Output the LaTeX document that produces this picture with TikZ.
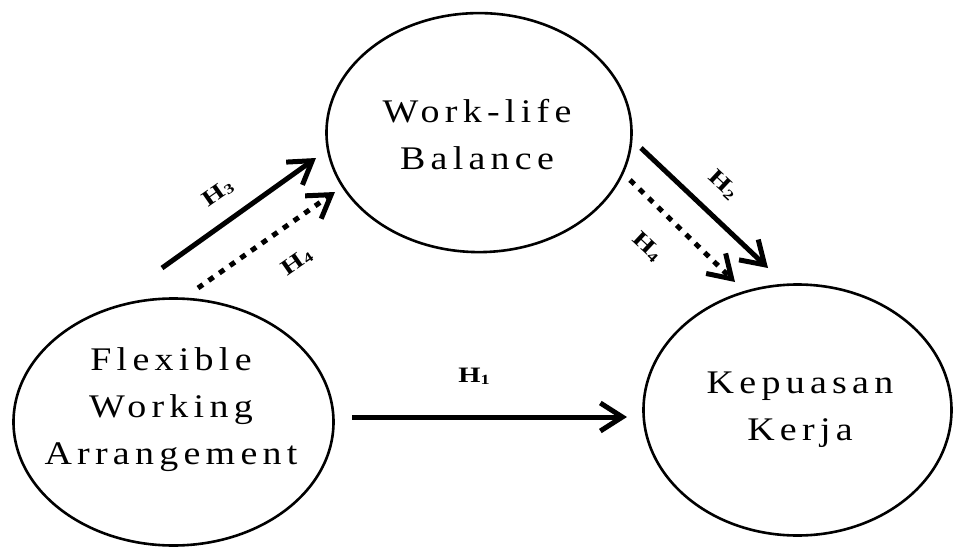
\documentclass[tikz,border=0pt]{standalone}
\usepackage{fontspec}
\setmainfont{Liberation Serif}
\newfontfamily\spacedfont[FakeStretch=1.15, LetterSpace=16]{Liberation Serif}
\newfontfamily\hypfont[FakeStretch=1.3]{Liberation Serif}
\usetikzlibrary{
    arrows.meta,
    shapes.geometric,
    calc
}

\tikzset{
    var/.style={draw, ellipse, line width=2.6pt, inner sep=0pt},
    vartext/.style={align=center, inner sep=0pt,
        font=\spacedfont\fontsize{33}{47}\selectfont},
    hyplabel/.style={inner sep=0pt, font=\hypfont\fontsize{22}{22}\selectfont\bfseries},
    effect/.style={line width=5pt, -{Straight Barb[length=22pt,width=28pt]}},
    indirect/.style={effect, dash pattern=on 6pt off 7pt}
}
\newcommand{\hyp}[1]{H\raisebox{-2pt}{\fontsize{14}{14}\selectfont #1}}

\begin{document}
\begin{tikzpicture}[x=1pt, y=-1pt]
    \useasboundingbox (0,0) rectangle (954,549);

    % variables
    \node[var, minimum width=320pt, minimum height=247pt] (fwa) at (173.5,422) {};
    \node[var, minimum width=305pt, minimum height=239pt] (wlb) at (479,132.6) {};
    \node[var, minimum width=308pt, minimum height=251pt] (kk) at (797.5,410) {};
    \node[vartext] (fwatext) at (171,410) {Flexible\\Working\\Arrangement};
    \node[vartext] (wlbtext) at (477,135) {Work-life\\Balance};
    \node[vartext] (kktext) at (800,410) {Kepuasan\\Kerja};

    % end points of the paths
    \coordinate (h1s) at (352,417);
    \coordinate (h1e) at (627,417);
    \coordinate (h3s) at (162,268);
    \coordinate (h3e) at (316,158);
    \coordinate (h4as) at (198,288);
    \coordinate (h4ae) at (335,192);
    \coordinate (h2s) at (641,148);
    \coordinate (h2e) at (768,268);
    \coordinate (h4bs) at (630,180);
    \coordinate (h4be) at (735,282);

    \draw[effect] (h1s) -- (h1e);
    \draw[effect] (h3s) -- (h3e);
    \draw[indirect] (h4as) -- (h4ae);
    \draw[effect] (h2s) -- (h2e);
    \draw[indirect] (h4bs) -- (h4be);

    % hypothesis labels
    \node[hyplabel] (h1) at (474,376) {\hyp{1}};
    \node[hyplabel, rotate=35] (h3) at (218,193) {\hyp{3}};
    \node[hyplabel, rotate=35] (h4a) at (297,262) {\hyp{4}};
    \node[hyplabel, rotate=-43] (h2) at (723,185) {\hyp{2}};
    \node[hyplabel, rotate=-43] (h4b) at (647,247) {\hyp{4}};
\end{tikzpicture}
\end{document}
